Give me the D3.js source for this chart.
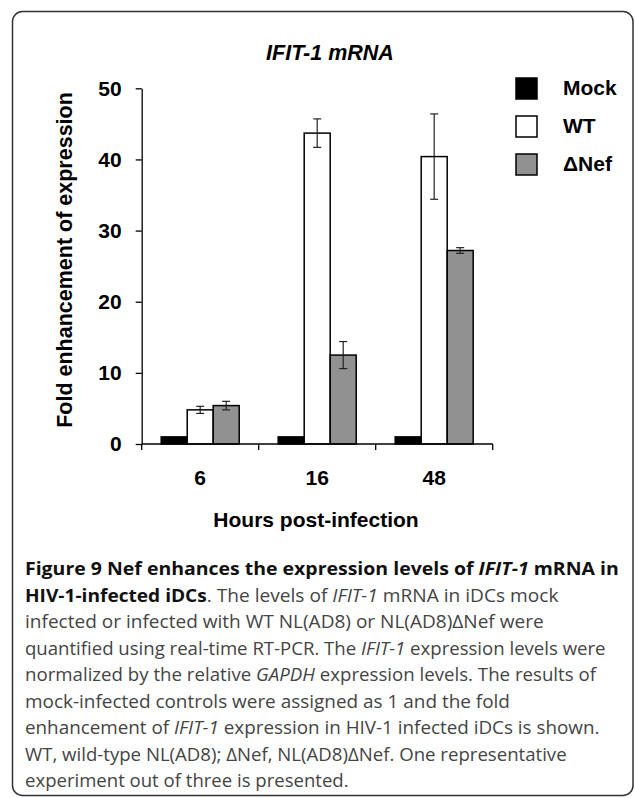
<!DOCTYPE html>
<html>
<head>
<meta charset="utf-8">
<script src="https://cdn.jsdelivr.net/npm/d3@7"></script>
<style>
  body { margin: 0; background: #fff; }
  svg { display: block; }
  .chart text { font-family: "Liberation Sans", Arial, sans-serif; font-weight: bold; fill: #000; }
  .caption text { font-family: "Open Sans", sans-serif; }
</style>
</head>
<body>
<script>
// datos
var hours = ["6", "16", "48"];
var seriesNames = ["Mock", "WT", "ΔNef"];
var mockVals = [1.0, 1.0, 1.0];
var wtVals = [4.8, 43.7, 40.4];
var nefVals = [5.4, 12.5, 27.2];
var mockErr = [0, 0, 0];
var wtErr = [0.5, 2.0, 6.0];
var nefErr = [0.6, 1.9, 0.4];
var yTicks = [0, 10, 20, 30, 40, 50];
var colors = ["#000000", "#ffffff", "#919191"];

// texto del pie de figura, linea por linea (b = negrita, i = cursiva)
var captionLines = [
  [["b", "Figure 9 Nef enhances the expression levels of "], ["bi", "IFIT-1"], ["b", " mRNA in"]],
  [["b", "HIV-1-infected iDCs"], ["r", ". The levels of "], ["i", "IFIT-1"], ["r", " mRNA in iDCs mock"]],
  [["r", "infected or infected with WT NL(AD8) or NL(AD8)ΔNef were"]],
  [["r", "quantified using real-time RT-PCR. The "], ["i", "IFIT-1"], ["r", " expression levels were"]],
  [["r", "normalized by the relative "], ["i", "GAPDH"], ["r", " expression levels. The results of"]],
  [["r", "mock-infected controls were assigned as 1 and the fold"]],
  [["r", "enhancement of "], ["i", "IFIT-1"], ["r", " expression in HIV-1 infected iDCs is shown."]],
  [["r", "WT, wild-type NL(AD8); ΔNef, NL(AD8)ΔNef. One representative"]],
  [["r", "experiment out of three is presented."]]
];
var captionEnds = [619, 559, 544, 606, 596, 510, 600, 567, 349];

var W = 635, H = 798;
var plot = {left: 141.7, right: 492.7, top: 88.3, bottom: 444};

var svg = d3.select("body").append("svg")
  .attr("width", W)
  .attr("height", H);

// marco redondeado
svg.append("rect")
  .attr("x", 12.5).attr("y", 11.5)
  .attr("width", 620.5).attr("height", 784)
  .attr("rx", 10)
  .attr("fill", "none")
  .attr("stroke", "#333")
  .attr("stroke-width", 1.5);

var g = svg.append("g").attr("class", "chart");

var x = d3.scaleBand().domain(hours)
  .range([plot.left, plot.right])
  .paddingInner(1 / 3).paddingOuter(1 / 6);
var xs = d3.scaleBand().domain(seriesNames).range([0, x.bandwidth()]);
var y = d3.scaleLinear().domain([0, 50]).range([plot.bottom, plot.top]);

var rows = [];
hours.forEach(function(h, i) {
  rows.push({h: h, s: "Mock", v: mockVals[i], e: mockErr[i], c: colors[0]});
  rows.push({h: h, s: "WT", v: wtVals[i], e: wtErr[i], c: colors[1]});
  rows.push({h: h, s: "ΔNef", v: nefVals[i], e: nefErr[i], c: colors[2]});
});

// barras
g.selectAll(".bar").data(rows).enter().append("rect")
  .attr("class", "bar")
  .attr("x", function(d) { return x(d.h) + xs(d.s); })
  .attr("y", function(d) { return y(d.v); })
  .attr("width", xs.bandwidth())
  .attr("height", function(d) { return y(0) - y(d.v); })
  .attr("fill", function(d) { return d.c; })
  .attr("stroke", "#000")
  .attr("stroke-width", 1.5);

// barras de error
var errs = g.selectAll(".err").data(rows.filter(function(d) { return d.e > 0; }))
  .enter().append("g").attr("class", "err")
  .attr("stroke", "#222").attr("stroke-width", 1.2);
errs.append("line")
  .attr("x1", function(d) { return x(d.h) + xs(d.s) + xs.bandwidth() / 2; })
  .attr("x2", function(d) { return x(d.h) + xs(d.s) + xs.bandwidth() / 2; })
  .attr("y1", function(d) { return y(d.v + d.e); })
  .attr("y2", function(d) { return y(d.v - d.e); });
[1, -1].forEach(function(sgn) {
  errs.append("line")
    .attr("x1", function(d) { return x(d.h) + xs(d.s) + xs.bandwidth() / 2 - 4; })
    .attr("x2", function(d) { return x(d.h) + xs(d.s) + xs.bandwidth() / 2 + 4; })
    .attr("y1", function(d) { return y(d.v + sgn * d.e); })
    .attr("y2", function(d) { return y(d.v + sgn * d.e); });
});

// eje y
var yAxis = g.append("g")
  .attr("transform", "translate(" + plot.left + ",0)")
  .call(d3.axisLeft(y).tickValues(yTicks).tickSize(6).tickPadding(14).tickSizeOuter(0));
yAxis.selectAll("path, line").attr("stroke", "#000").attr("stroke-width", 1.3);
yAxis.selectAll("text").style("font-size", "21px").attr("fill", "#000").attr("font-family", null);

// eje x: etiquetas centradas, marcas en los limites de categoria
var xAxis = g.append("g")
  .attr("transform", "translate(0," + plot.bottom + ")")
  .call(d3.axisBottom(x).tickSize(0).tickPadding(26));
xAxis.select(".domain").remove();
xAxis.selectAll("text").style("font-size", "21px").attr("fill", "#000").attr("font-family", null);

var bounds = hours.map(function(h) { return x(h) - x.step() * x.paddingInner() / 2; }).concat([plot.right]);
g.append("line")
  .attr("x1", plot.left).attr("x2", plot.right)
  .attr("y1", plot.bottom).attr("y2", plot.bottom)
  .attr("stroke", "#000").attr("stroke-width", 1.3);
g.selectAll(".xtick").data(bounds).enter().append("line")
  .attr("class", "xtick")
  .attr("x1", function(d) { return d; }).attr("x2", function(d) { return d; })
  .attr("y1", plot.bottom).attr("y2", plot.bottom + 6)
  .attr("stroke", "#000").attr("stroke-width", 1.3);

// titulos
g.append("text")
  .attr("x", 330).attr("y", 60)
  .attr("text-anchor", "middle")
  .style("font-size", "21.5px").style("font-style", "italic")
  .text("IFIT-1 mRNA");

g.append("text")
  .attr("transform", "translate(72,260) rotate(-90)")
  .attr("text-anchor", "middle")
  .style("font-size", "21.5px")
  .text("Fold enhancement of expression");

g.append("text")
  .attr("x", 316).attr("y", 527)
  .attr("text-anchor", "middle")
  .style("font-size", "21px")
  .text("Hours post-infection");

// leyenda
var leg = g.selectAll(".leg").data(seriesNames).enter().append("g")
  .attr("class", "leg")
  .attr("transform", function(d, i) { return "translate(516," + (78 + i * 38) + ")"; });
leg.append("rect")
  .attr("width", 21).attr("height", 21)
  .attr("fill", function(d, i) { return colors[i]; })
  .attr("stroke", "#000").attr("stroke-width", 1.5);
leg.append("text")
  .attr("x", 47).attr("y", 17)
  .style("font-size", "21px")
  .text(function(d) { return d; });

// pie de figura
var cap = svg.append("g").attr("class", "caption");
captionLines.forEach(function(line, i) {
  var t = cap.append("text")
    .attr("transform", "translate(25," + (575 + i * 26.5) + ")")
    .style("font-size", "18.5px");
  line.forEach(function(seg) {
    var st = seg[0];
    t.append("tspan")
      .text(seg[1])
      .attr("font-weight", st.indexOf("b") >= 0 ? "bold" : "normal")
      .attr("font-style", st.indexOf("i") >= 0 ? "italic" : "normal")
      .attr("fill", st.indexOf("b") >= 0 ? "#111" : "#444");
  });
  var w = t.node().getComputedTextLength();
  var target = captionEnds[i] - 25;
  t.attr("transform", "translate(25," + (575 + i * 26.5) + ") scale(" + (target / w) + ",1)");
});
</script>
</body>
</html>
